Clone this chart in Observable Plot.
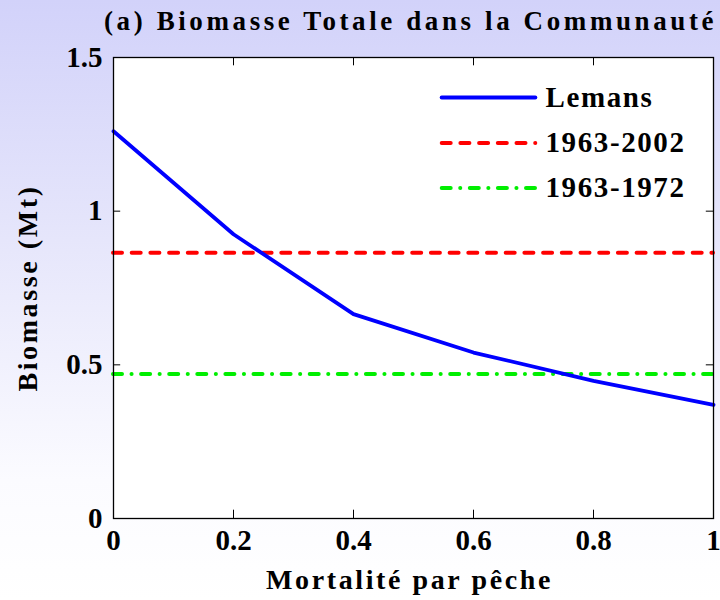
<!DOCTYPE html>
<html>
<head>
<meta charset="utf-8">
<script src="https://cdn.jsdelivr.net/npm/d3@7"></script>
<script src="https://cdn.jsdelivr.net/npm/@observablehq/plot@0.6"></script>
<style>
  html, body { margin: 0; padding: 0; }
  #wrap {
    width: 720px; height: 600px; position: relative; overflow: hidden;
    background: linear-gradient(to bottom, #d2d2fa 0%, #e6e6fb 40%, #fbfbff 80%, #ffffff 100%);
    font-family: "Liberation Serif", "Times New Roman", serif; font-weight: bold;
  }
  #title {
    height: 40px; line-height: 42px; text-align: left; padding-left: 104px;
    font-size: 27px; letter-spacing: 3.6px; color: #000; white-space: nowrap;
  }
</style>
</head>
<body>
<div id="wrap">
  <div id="title">(a) Biomasse Totale dans la Communauté</div>
  <div id="chart"></div>
</div>
<script>
const mortality = [0, 0.2, 0.4, 0.6, 0.8, 1.0];
const lemans = [1.26, 0.925, 0.665, 0.54, 0.448, 0.37];
const ref1963_2002 = 0.865;
const ref1963_1972 = 0.47;
const seriesNames = ["Lemans", "1963-2002", "1963-1972"];
const xTicks = [0, 0.2, 0.4, 0.6, 0.8, 1];
const yTicks = [0, 0.5, 1, 1.5];
const xLabel = "Mortalité par pêche";
const yLabel = "Biomasse (Mt)";

const lemansData = mortality.map((m, i) => ({x: m, y: lemans[i]}));
const colors = ["#0000ff", "#ff0000", "#00ee00"];
const dashes = [null, "9,9.7", "9,9.5,0.1,9.5"];

// legend layout (data coordinates inside frame)
const legY = [1.37, 1.222, 1.075];
const legend = seriesNames.map((n, i) => ({name: n, y: legY[i], color: colors[i], dash: dashes[i]}));

const font = "Liberation Serif, Times New Roman, serif";
const fmt = d => String(d);

const legendLines = legend.map(d => Plot.link([d], {x1: 0.547, x2: 0.703, y1: "y", y2: "y",
  stroke: d.color, strokeWidth: 4, strokeDasharray: d.dash, strokeLinecap: "round"}));

const chart = Plot.plot({
  width: 720,
  height: 560,
  marginLeft: 113,
  marginRight: 7,
  marginTop: 17,
  marginBottom: 82,
  style: {fontFamily: font, fontWeight: "bold", fontSize: "29px", background: "transparent", color: "#000"},
  x: {domain: [0, 1], label: null},
  y: {domain: [0, 1.5], label: null},
  marks: [
    Plot.frame({fill: "white", stroke: null}),
    // inward ticks on all four sides
    Plot.ruleX(xTicks.slice(1, -1), {y1: 0, y2: 0.027, stroke: "#000", strokeWidth: 1}),
    Plot.ruleX(xTicks.slice(1, -1), {y1: 1.5, y2: 1.473, stroke: "#000", strokeWidth: 1}),
    Plot.ruleY(yTicks.slice(1, -1), {x1: 0, x2: 0.012, stroke: "#000", strokeWidth: 1}),
    Plot.ruleY(yTicks.slice(1, -1), {x1: 1, x2: 0.988, stroke: "#000", strokeWidth: 1}),
    Plot.axisX(xTicks, {tickSize: 0, tickPadding: 11, tickFormat: fmt, fontSize: 29, label: null}),
    Plot.axisY(yTicks, {tickSize: 0, tickPadding: 11, tickFormat: fmt, fontSize: 29, label: null}),
    Plot.ruleY([ref1963_2002], {x1: 0, x2: 1, stroke: colors[1], strokeWidth: 4, strokeDasharray: dashes[1], strokeLinecap: "round"}),
    Plot.ruleY([ref1963_1972], {x1: 0, x2: 1, stroke: colors[2], strokeWidth: 4, strokeDasharray: dashes[2], strokeLinecap: "round"}),
    Plot.line(lemansData, {x: "x", y: "y", stroke: colors[0], strokeWidth: 3.8}),
    // legend
    ...legendLines,
    Plot.text(legend, {x: 0.72, y: "y", text: "name", textAnchor: "start", fontSize: 29, fill: "#000"}),
    Plot.frame({stroke: "#000", strokeWidth: 1.3}),
    Plot.text([xLabel], {frameAnchor: "bottom", textAnchor: "middle", dy: 70, dx: -4, fontSize: 28, fill: "#000"}),
    Plot.text([yLabel], {frameAnchor: "left", textAnchor: "middle", dx: -85, rotate: -90, fontSize: 28, fill: "#000"})
  ]
});
// widen letter spacing of the axis titles and legend like the reference rendering
d3.select(chart).selectAll("text").filter(function() { return [xLabel, yLabel].includes(this.textContent); })
  .style("letter-spacing", "2.6px");
d3.select(chart).selectAll("text").filter(function() { return seriesNames.includes(this.textContent); })
  .style("letter-spacing", "1.6px");
document.getElementById("chart").appendChild(chart);
</script>
</body>
</html>
